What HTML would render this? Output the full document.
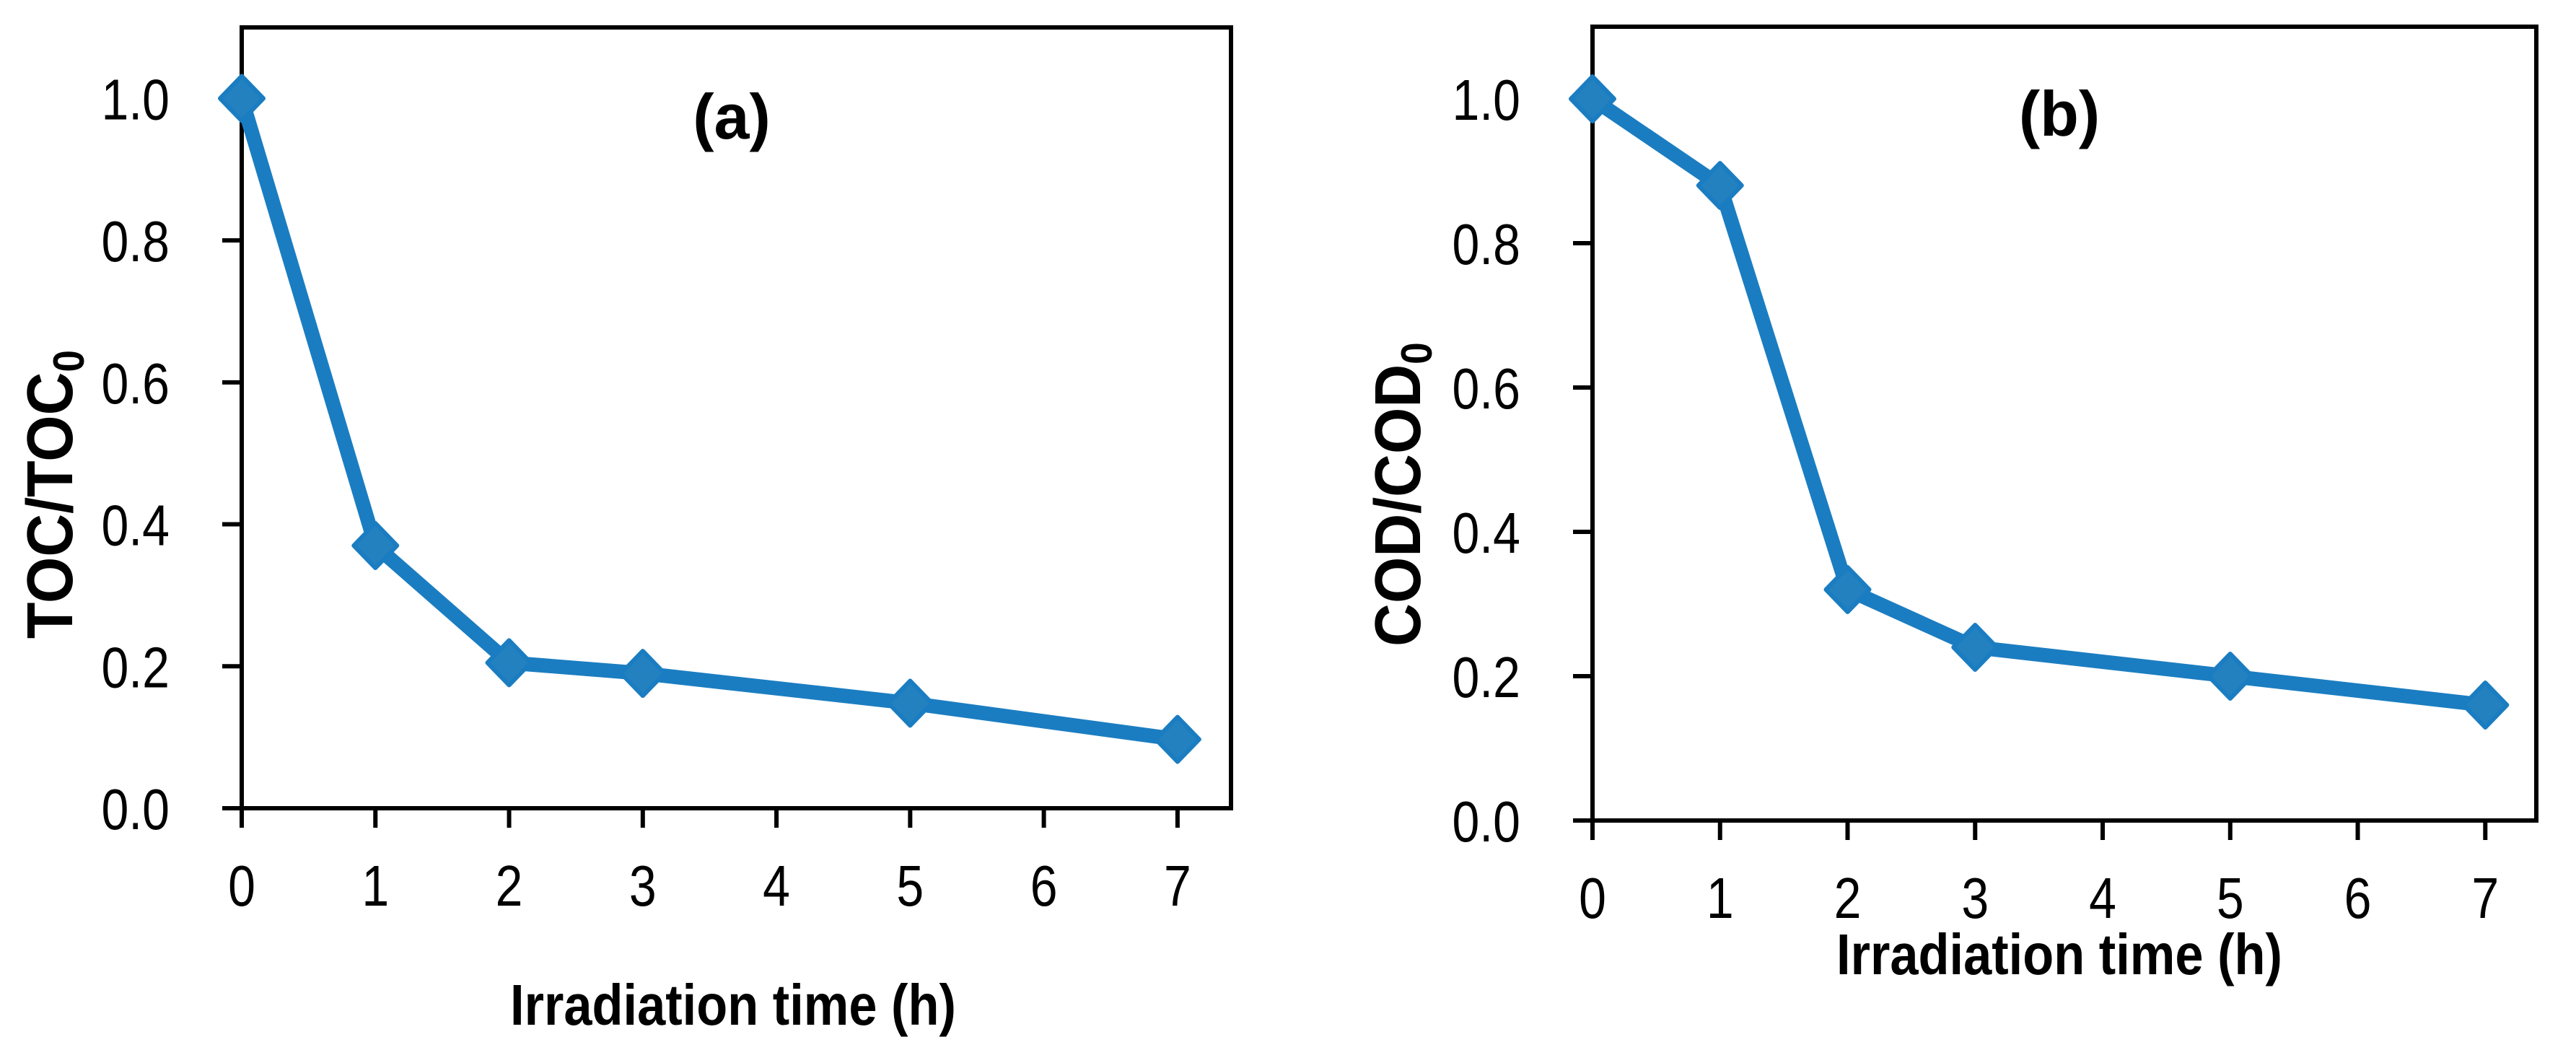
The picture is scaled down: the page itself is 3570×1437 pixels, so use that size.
<!DOCTYPE html>
<html><head><meta charset="utf-8">
<style>
html,body{margin:0;padding:0;background:#fff;}
svg{display:block;}
text{font-family:"Liberation Sans",sans-serif;fill:#000;}
</style></head>
<body>
<svg id="fig" width="3570" height="1437" viewBox="0 0 3570 1437" xmlns="http://www.w3.org/2000/svg"></svg>
<script>
const xValues = [0, 1, 2, 3, 5, 7];
const tocValues = [1.0, 0.37, 0.205, 0.19, 0.148, 0.097];
const codValues = [1.0, 0.88, 0.32, 0.24, 0.20, 0.16];
const xTickLabels = ["0","1","2","3","4","5","6","7"];
const yTickLabels = ["0.0","0.2","0.4","0.6","0.8","1.0"];

const NS = "http://www.w3.org/2000/svg";
const svg = document.getElementById('fig');
function mk(tag, attrs, parent){
  const e = document.createElementNS(NS, tag);
  for (const k in attrs) e.setAttribute(k, attrs[k]);
  (parent||svg).appendChild(e);
  return e;
}
function panel(cfg){
  const g = mk('g', {});
  
  
  const xs = v => cfg.left + (v/7.4)*(cfg.right-cfg.left);
  const ys = v => cfg.y0 - (v/1.1)*(cfg.y0-cfg.top);
  const frame = mk('rect', {x:cfg.left, y:cfg.top, width:cfg.right-cfg.left, height:cfg.y0-cfg.top, fill:'none', stroke:'#000', 'stroke-width':6}, g);
  
  
  xTickLabels.forEach((lab,i)=>{
    const v = +lab;
    const t = mk('line', {x1:xs(v), x2:xs(v), y1:cfg.y0, y2:cfg.y0+27, stroke:'#000','stroke-width':6}, g);
    
    
    const tx = mk('text', {x:xs(v), y:cfg.y0+135, 'font-size':80, 'text-anchor':'middle', transform:`translate(${xs(v)},0) scale(0.85,1) translate(${-xs(v)},0)`}, g);
    tx.textContent = lab;
    
    
  });
  yTickLabels.forEach(lab=>{
    const v = +lab;
    const t = mk('line', {x1:cfg.left-27, x2:cfg.left, y1:ys(v), y2:ys(v), stroke:'#000','stroke-width':6}, g);
    
    
    const rx = cfg.left-100;
    const tx = mk('text', {x:rx, y:ys(v)+29, 'font-size':80, 'text-anchor':'end', transform:`translate(${rx},0) scale(0.85,1) translate(${-rx},0)`}, g);
    tx.textContent = lab;
    
    
  });
  const pts = xValues.map((x,i)=>xs(x)+','+ys(cfg.values[i])).join(' ');
  const line = mk('polyline', {points:pts, fill:'none', stroke:'#1b7dc1','stroke-width':20,'stroke-linejoin':'round'}, g);
  
  
  xValues.forEach((x,i)=>{
    const cx = xs(x), cy = ys(cfg.values[i]);
    const d = mk('polygon', {points:`${cx},${cy-31} ${cx+30},${cy} ${cx},${cy+31} ${cx-30},${cy}`, fill:'#2381c0', stroke:'#1b7dc1','stroke-width':6,'stroke-linejoin':'round'}, g);
    
    
  });
  const lbl = mk('text', {x:cfg.lblX, y:cfg.lblY, 'font-size':88, 'font-weight':'bold', 'text-anchor':'middle'}, g);
  lbl.textContent = cfg.label;
  
  
  const xt = mk('text', {x:cfg.xtX, y:cfg.xtY, 'font-size':80, 'font-weight':'bold', 'text-anchor':'middle', transform:`translate(${cfg.xtX},0) scale(0.88,1) translate(${-cfg.xtX},0)`}, g);
  xt.textContent = 'Irradiation time (h)';
  
  
  const yt = mk('text', {x:0, y:0, 'font-size':90, 'font-weight':'bold', 'text-anchor':'middle', transform:`translate(${cfg.ytX},${cfg.ytY}) rotate(-90) scale(0.92,1)`}, g);
  
  
  yt.appendChild(document.createTextNode(cfg.ytitle));
  const sub = document.createElementNS(NS, 'tspan');
  sub.setAttribute('font-size', 60);
  sub.setAttribute('dy', 16);
  sub.textContent = '0';
  yt.appendChild(sub);
}
panel({name:'panel-a-toc', left:335, right:1706, top:38, y0:1120, values:tocValues, label:'(a)', lblX:1014, lblY:192, xtX:1016, xtY:1420, ytX:100, ytY:685, ytitle:'TOC/TOC'});
panel({name:'panel-b-cod', left:2207, right:3515, top:37, y0:1137, values:codValues, label:'(b)', lblX:2854, lblY:188, xtX:2854, xtY:1350, ytX:1968, ytY:685, ytitle:'COD/COD'});
</script>
</body></html>
